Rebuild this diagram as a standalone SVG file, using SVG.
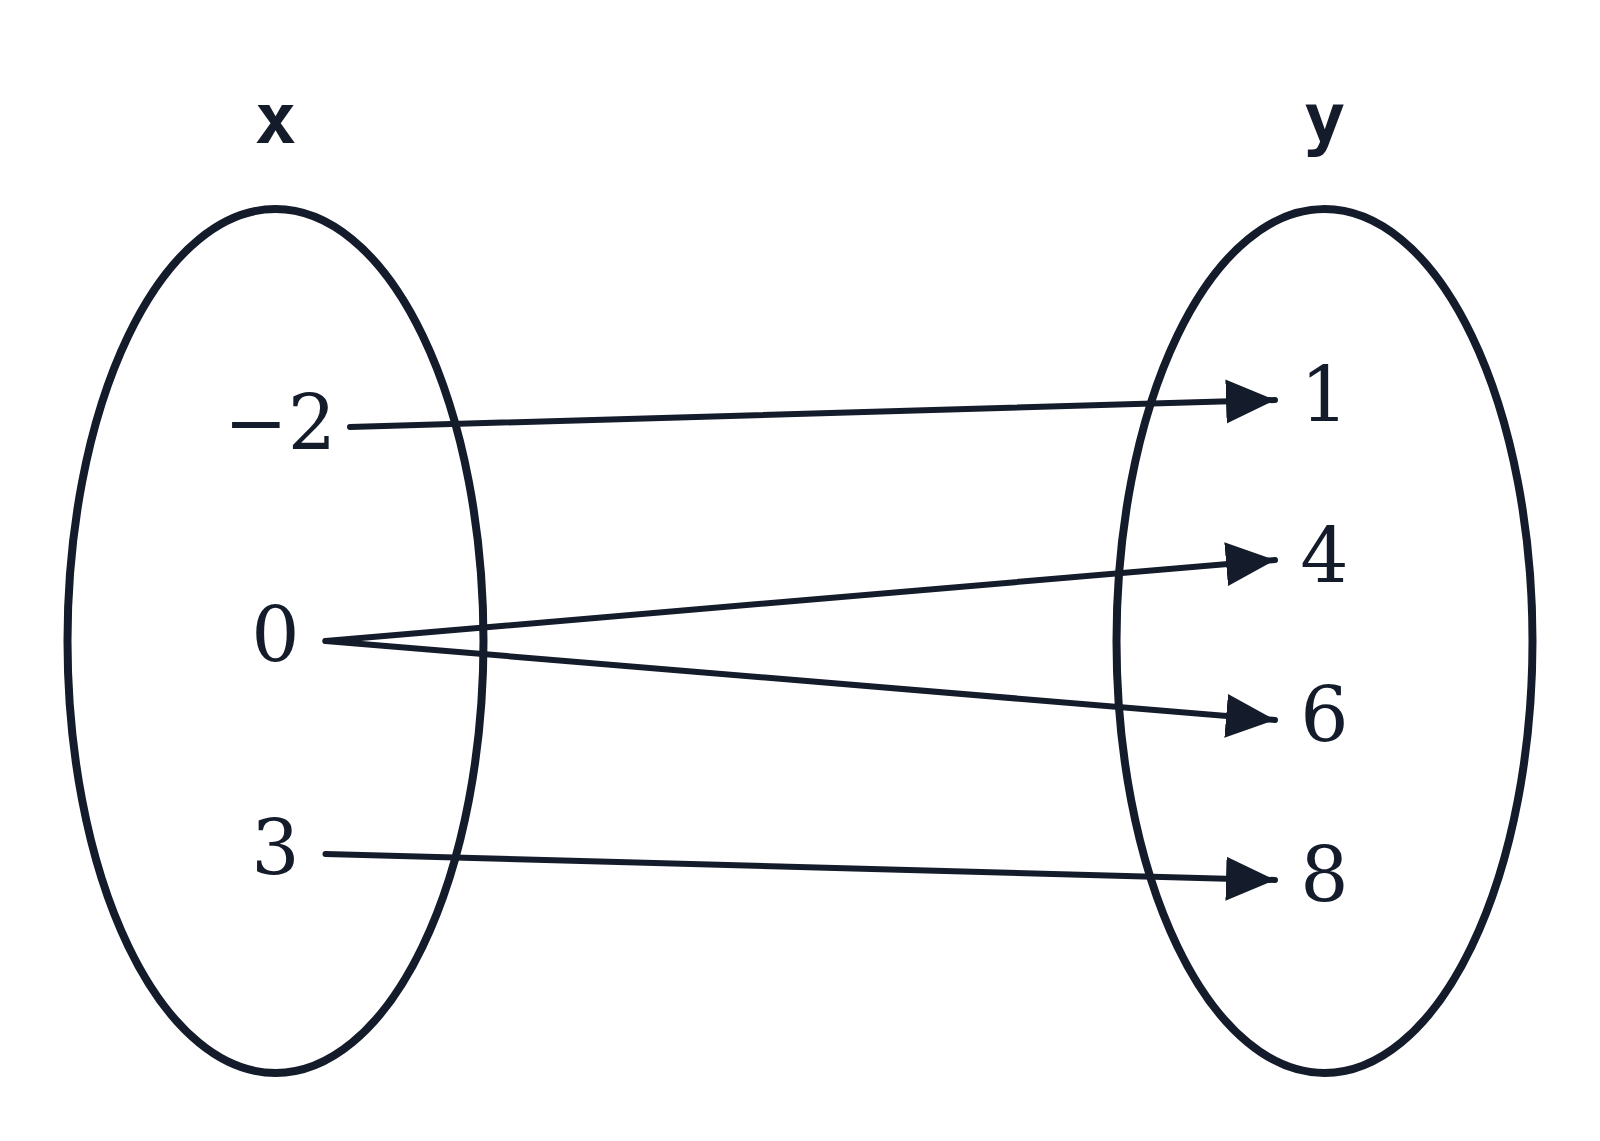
<svg xmlns="http://www.w3.org/2000/svg" width="1600" height="1141" viewBox="0 0 1600 1141">
<style>
.set{fill:none;stroke:#141b2a;stroke-width:8}
.hd{font-family:"DejaVu Sans Mono",monospace;font-weight:bold;font-size:70px;fill:#141b2a;text-anchor:middle}
.num{font-family:"DejaVu Serif",serif;font-size:76px;fill:#141b2a;text-anchor:middle}
.c{stroke:#141b2a;stroke-width:6;stroke-linecap:round;fill:none;marker-end:url(#ah)}
</style>
<defs><marker id="ah" markerUnits="userSpaceOnUse" markerWidth="52" markerHeight="46" refX="49" refY="22" orient="auto"><path d="M0,0 L49,22 L0,44 Z" fill="#141b2a"/></marker></defs>
<rect width="1600" height="1141" fill="#fff"/>
<g id="setX"><ellipse class="set" cx="275.5" cy="641" rx="208" ry="432"/><text class="hd" x="275.5" y="143">x</text></g>
<g id="setY"><ellipse class="set" cx="1324.5" cy="641" rx="208" ry="432"/><text class="hd" x="1324.5" y="143">y</text></g>
<g id="xm2"><text class="num" x="280" y="449">−2</text></g>
<g id="x0"><text class="num" x="275.5" y="661">0</text></g>
<g id="x3"><text class="num" x="275.5" y="874">3</text></g>
<g id="y1"><text class="num" x="1324.5" y="421">1</text></g>
<g id="y4"><text class="num" x="1324.5" y="582">4</text></g>
<g id="y6"><text class="num" x="1324.5" y="741">6</text></g>
<g id="y8"><text class="num" x="1324.5" y="901">8</text></g>
<g id="connectors">
<line class="c" x1="350" y1="427" x2="1275" y2="400"/>
<line class="c" x1="325.5" y1="641" x2="1275" y2="560"/>
<line class="c" x1="325.5" y1="641" x2="1275" y2="720"/>
<line class="c" x1="325.5" y1="854" x2="1275" y2="880"/>
</g>
</svg>
